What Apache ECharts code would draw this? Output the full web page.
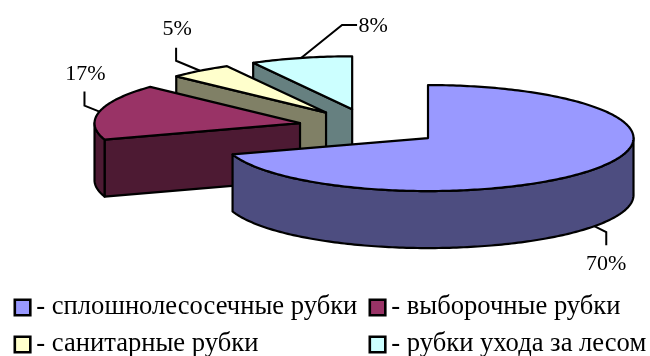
<!DOCTYPE html>
<html>
<head>
<meta charset="utf-8">
<style>html,body{margin:0;padding:0;background:#fff}#chart{width:650px;height:356px}</style>
<script src="https://cdn.jsdelivr.net/npm/echarts@6/dist/echarts.min.js"></script>
</head>
<body>
<div id="chart"></div>
<script>
// Доли видов рубок, %
const categories = ['сплошнолесосечные рубки', 'выборочные рубки', 'санитарные рубки', 'рубки ухода за лесом'];
const values = [70, 17, 5, 8];
const topColors = ['#9999FF', '#993366', '#FFFFCC', '#CCFFFF'];
const sideColors = ['#4D4D80', '#4D1A33', '#808066', '#668080'];

// Проекция объёмной круговой диаграммы
const pie = { cx: 370, cy: 127.2, rx: 205.5, ry: 53, depth: 57, explode: 71.7 };
// Изломы выносок и подписи относительно точки на кромке сектора
const leaders = [
  { elbow: [12, 6], end: [12, 19], label: [12, 37] },
  { elbow: [-15, -6], end: [-15, -20], label: [-14, -38] },
  { elbow: [-24, -10], end: [-24, -23], label: [-23, -42] },
  { elbow: [41, -33], end: [56, -33], label: [72, -33] }
];
const legendSlots = [[13.5, 294], [368.5, 294], [13.5, 331], [368.5, 331]];
const FONT = '"Liberation Serif", "Times New Roman", serif';
const total = values.reduce((a, b) => a + b, 0);
const rad = d => d * Math.PI / 180;

function startAngle(i) {
  return values.slice(0, i).reduce((a, b) => a + b, 0) / total * 360;
}

function renderSlice(index, params, api) {
  const value = api.value(0);
  const a0 = startAngle(index);
  const a1 = a0 + value / total * 360;
  const mid = (a0 + a1) / 2;
  const c = [
    pie.cx + Math.sin(rad(mid)) * pie.explode,
    pie.cy - Math.cos(rad(mid)) * pie.explode * pie.ry / pie.rx
  ];
  const rim = (a, drop) => [
    c[0] + Math.sin(rad(a)) * pie.rx,
    c[1] - Math.cos(rad(a)) * pie.ry + (drop || 0)
  ];
  const arc = (from, to, drop) => {
    const pts = [];
    const n = Math.max(2, Math.ceil(Math.abs(to - from)));
    for (let k = 0; k <= n; k++) pts.push(rim(from + (to - from) * k / n, drop));
    return pts;
  };
  const outline = { stroke: '#000', lineWidth: 2.2, lineJoin: 'round' };
  const poly = (points, fill) => ({
    type: 'polygon', shape: { points }, style: Object.assign({ fill }, outline)
  });
  const children = [];
  const side = sideColors[index];

  // Видимые плоскости разреза
  const wall = a => {
    const p = rim(a);
    return poly([c, p, [p[0], p[1] + pie.depth], [c[0], c[1] + pie.depth]], side);
  };
  if (Math.sin(rad(a0)) < -1e-6) children.push(wall(a0));
  if (Math.sin(rad(a1)) > 1e-6) children.push(wall(a1));

  // Передняя кромка
  const from = Math.max(a0, 90);
  const to = Math.min(a1, 270);
  if (from < to) {
    children.push(poly(arc(from, to).concat(arc(to, from, pie.depth)), side));
  }

  // Верхняя грань
  children.push(poly([c].concat(arc(a0, a1)), topColors[index]));

  // Выноска и подпись
  const front = Math.cos(rad(mid)) < 0 ? pie.depth : 0;
  const o = rim(mid, front);
  const lead = leaders[index];
  children.push({
    type: 'polyline',
    shape: { points: [o, [o[0] + lead.elbow[0], o[1] + lead.elbow[1]], [o[0] + lead.end[0], o[1] + lead.end[1]]] },
    style: { fill: 'none', stroke: '#000', lineWidth: 2 }
  });
  children.push({
    type: 'text',
    style: {
      x: o[0] + lead.label[0], y: o[1] + lead.label[1] + 1,
      text: value + '%', align: 'center', verticalAlign: 'middle',
      font: '22px ' + FONT, fill: '#000'
    }
  });
  return { type: 'group', children };
}

// Порядок отрисовки: дальние секторы раньше ближних
const depthOrder = values
  .map((v, i) => ({ i, key: -Math.cos(rad(startAngle(i) + v / total * 180)) }))
  .sort((a, b) => a.key - b.key)
  .map(d => d.i);

const option = {
  backgroundColor: '#fff',
  animation: false,
  legend: categories.map((name, i) => ({
    data: [name],
    left: legendSlots[i][0],
    top: legendSlots[i][1],
    padding: 0,
    icon: 'rect',
    itemWidth: 15.5,
    itemHeight: 15.5,
    selectedMode: false,
    formatter: '- {name}',
    itemStyle: { borderColor: '#000', borderWidth: 2.6 },
    textStyle: { fontFamily: FONT, fontSize: 26.6, lineHeight: 26, color: '#000', padding: [0, 0, 0, 1] }
  })),
  series: categories.map((name, i) => ({
    type: 'custom',
    name,
    coordinateSystem: 'none',
    silent: true,
    z: 2 + depthOrder.indexOf(i),
    itemStyle: { color: topColors[i] },
    data: [[values[i]]],
    renderItem: (params, api) => renderSlice(i, params, api)
  }))
};

echarts.init(document.getElementById('chart'), null, { renderer: 'canvas' }).setOption(option);
</script>
</body>
</html>
